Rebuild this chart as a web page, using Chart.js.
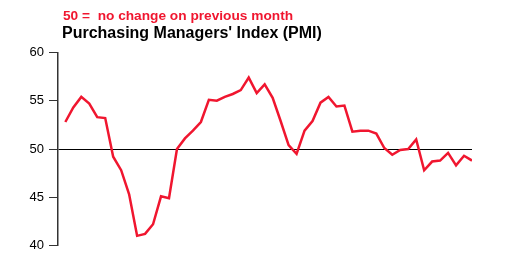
<!DOCTYPE html>
<html>
<head>
<meta charset="utf-8">
<script src="https://cdn.jsdelivr.net/npm/chart.js@4/dist/chart.umd.min.js"></script>
<style>
  html, body { margin: 0; padding: 0; background: #fff; }
  #wrap { width: 527px; height: 270px; position: relative; }
</style>
</head>
<body>
<div id="wrap"><canvas id="pmiChart" width="527" height="270"></canvas></div>
<script>
// monthly PMI readings
const pmi = [52.8, 54.3, 55.4, 54.7, 53.3, 53.2, 49.2, 47.8, 45.3, 41.0,
             41.2, 42.2, 45.1, 44.9, 50.0, 51.1, 51.9, 52.8, 55.1, 55.0,
             55.4, 55.7, 56.1, 57.4, 55.8, 56.7, 55.3, 52.9, 50.4, 49.5,
             51.9, 52.9, 54.8, 55.4, 54.4, 54.5, 51.8, 51.9, 51.9, 51.6,
             50.1, 49.4, 49.9, 50.0, 51.0, 47.8, 48.7, 48.8, 49.6, 48.3,
             49.3, 48.8];
const months = pmi.map((_, i) => i);
const yTicks = [40, 45, 50, 55, 60];
const noChange = 50;

const titleText = "Purchasing Managers' Index (PMI)";
const noteText = '50 =  no change on previous month';

const FONT = "'Liberation Sans', Arial, Helvetica, sans-serif";

// headings above the plot
const headings = {
  id: 'headings',
  afterDraw(chart) {
    const c = chart.ctx;
    c.save();
    c.textBaseline = 'alphabetic';
    c.textAlign = 'left';
    c.fillStyle = '#f0162f';
    c.font = 'bold 13.7px ' + FONT;
    c.fillText(noteText, 63, 20);
    c.fillStyle = '#000';
    c.font = 'bold 16px ' + FONT;
    c.fillText(titleText, 62, 38);
    c.restore();
  }
};

new Chart(document.getElementById('pmiChart'), {
  type: 'line',
  data: {
    datasets: [{
      data: months.map((m, i) => ({ x: m, y: pmi[i] })),
      borderColor: '#f0162f',
      borderWidth: 2.5,
      pointRadius: 0,
      tension: 0,
      fill: false
    }]
  },
  options: {
    responsive: false,
    animation: false,
    layout: { padding: { top: 52.5, bottom: 24.5, left: 0, right: 55 } },
    plugins: { legend: { display: false }, tooltip: { enabled: false } },
    scales: {
      x: {
        type: 'linear',
        min: -0.92,
        max: months[months.length - 1],
        display: false
      },
      y: {
        min: yTicks[0],
        max: yTicks[yTicks.length - 1],
        afterBuildTicks: (axis) => { axis.ticks = yTicks.map(v => ({ value: v })); },
        afterFit: (axis) => { axis.width = 58; },
        ticks: {
          color: '#000',
          padding: 5,
          font: { family: FONT, size: 13 }
        },
        grid: {
          drawOnChartArea: true,
          color: (ctx) => ctx.tick && ctx.tick.value === noChange ? '#000' : 'rgba(0,0,0,0)',
          tickColor: '#333',
          tickLength: 9,
          lineWidth: 1
        },
        border: { display: true, color: '#333', width: 1.5 }
      }
    }
  },
  plugins: [headings]
});
</script>
</body>
</html>
